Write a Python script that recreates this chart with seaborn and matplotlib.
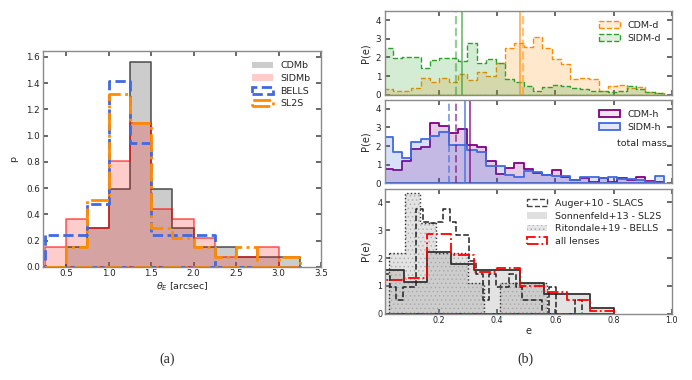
import numpy as np
import matplotlib
matplotlib.use("Agg")
import matplotlib.pyplot as plt
from matplotlib.colors import to_rgba
from matplotlib.patches import Patch
import seaborn as sns

# ---- (a) Einstein radius distributions -------------------------------
theta_edges = [0.25, 0.5, 0.75, 1.0, 1.25, 1.5, 1.75, 2.0, 2.25, 2.5, 2.75, 3.0, 3.25]
p_cdmb = [0.0, 0.147, 0.297, 0.594, 1.562, 0.594, 0.297, 0.147, 0.147, 0.076, 0.076, 0.076]
p_sidmb = [0.147, 0.366, 0.297, 0.805, 1.097, 0.44, 0.366, 0.218, 0.076, 0.076, 0.147, 0.0]
p_bells = [0.239, 0.239, 0.475, 1.42, 0.945, 0.239, 0.239, 0.239, 0.0, 0.0, 0.0, 0.0]
p_sl2s = [0.0, 0.147, 0.508, 1.315, 1.097, 0.292, 0.22, 0.147, 0.073, 0.147, 0.0, 0.073]

# ---- (b) ellipticity distributions -----------------------------------
e_edges = np.linspace(0.008, 0.974, 31)
pe_cdm_d = [0.32, 0.21, 0.21, 0.38, 0.91, 0.7, 0.91, 0.7, 1.1, 0.79, 1.21, 1.0, 1.71, 2.48, 2.75,
            2.57, 3.07, 2.48, 1.89, 1.64, 0.82, 0.88, 0.82, 0.21, 0.46, 0.52, 0.34, 0.39, 0.16, 0.1]
pe_sidm_d = [2.48, 1.95, 2.0, 2.04, 1.41, 1.86, 1.95, 1.95, 1.8, 2.75, 1.71, 1.89, 1.7, 0.82, 0.66,
             0.46, 0.21, 0.39, 0.52, 0.46, 0.36, 0.3, 0.2, 0.2, 0.15, 0.2, 0.47, 0.3, 0.12, 0.08]
pe_cdm_h = [0.77, 0.72, 1.17, 1.83, 1.94, 3.23, 3.08, 2.69, 2.9, 2.03, 1.94, 1.17, 0.5, 0.81, 1.11,
            0.75, 0.54, 0.45, 0.72, 0.36, 0.18, 0.27, 0.09, 0.27, 0.09, 0.27, 0.18, 0.32, 0.13, 0.05]
pe_sidm_h = [2.46, 1.67, 1.35, 2.2, 2.37, 2.55, 2.73, 2.06, 2.06, 1.79, 1.7, 0.9, 0.93, 0.45, 0.32,
             0.63, 0.58, 0.45, 0.4, 0.4, 0.18, 0.36, 0.32, 0.27, 0.32, 0.2, 0.2, 0.18, 0.09, 0.4]
# mean (solid) / median (dashed) markers
vlines_d = {"CDM-d": (0.477, 0.488), "SIDM-d": (0.279, 0.26)}
vlines_h = {"CDM-h": (0.305, 0.26), "SIDM-h": (0.288, 0.234)}

# observed samples
auger_edges = np.linspace(0.008, 0.692, 31)
pe_auger = [1.42, 0.97, 0.49, 0.97, 0.97, 3.77, 3.31, 3.25, 3.31, 3.77, 3.31, 2.83, 2.83, 1.9, 1.42,
            0.49, 1.42, 0.97, 0.97, 1.42, 0.97, 0.49, 0.49, 0.49, 0.0, 0.97, 0.0, 0.0, 0.0, 0.49]
obs_edges = [0.0, 0.08, 0.16, 0.24, 0.32, 0.40, 0.48, 0.56, 0.64, 0.72, 0.80]
pe_sonn = [1.56, 1.13, 2.23, 1.79, 1.57, 1.57, 1.12, 0.7, 0.7, 0.22]
pe_all = [1.22, 1.3, 2.87, 2.13, 1.5, 1.65, 1.0, 0.8, 0.5, 0.1]
rit_edges = np.linspace(0.027, 0.572, 11)
pe_rit = [2.17, 4.33, 3.26, 2.17, 2.17, 1.09, 0.0, 1.09, 1.09, 1.09]

sns.set_theme(style="ticks")
plt.rcParams.update({
    "font.family": ["DejaVu Sans"],
    "axes.edgecolor": "#8a8a8a",
    "axes.linewidth": 1.0,
    "xtick.direction": "in", "ytick.direction": "in",
    "xtick.top": True, "ytick.right": True,
    "xtick.major.size": 3.5, "ytick.major.size": 3.5,
    "xtick.major.pad": 1.8, "ytick.major.pad": 2.5,
    "xtick.color": "#555555", "ytick.color": "#555555",
    "xtick.labelcolor": "#222222", "ytick.labelcolor": "#222222",
    "xtick.labelsize": 6.3, "ytick.labelsize": 6.3,
    "axes.labelsize": 6.8, "legend.fontsize": 6.8,
    "hatch.linewidth": 0.6,
})


def step_hist(ax, edges, heights, color, ls="-", lw=1.0, fill=0.0, edge_alpha=1.0, hatch=None,
              edgecolor=None):
    edges = [float(v) for v in edges]
    mids = [0.5 * (a + b) for a, b in zip(edges[:-1], edges[1:])]
    kw = dict(facecolor=to_rgba(color, fill),
              edgecolor=edgecolor if edgecolor is not None else to_rgba(color, edge_alpha),
              linestyle=ls, linewidth=lw)
    if hatch:
        kw["hatch"] = hatch
    sns.histplot(x=mids, weights=list(heights), bins=edges, element="step", fill=True,
                 color=color, ax=ax, **kw)


leg_kw = dict(loc="upper right", frameon=False, handlelength=2.2, handleheight=0.7,
              handletextpad=0.8, labelspacing=0.38)

fig = plt.figure(figsize=(6.92, 3.8), dpi=100)

# ---------------------------------------------------------------- (a)
ax = fig.add_axes([0.0626, 0.298, 0.4013, 0.5676])
step_hist(ax, theta_edges, p_cdmb, "#808080", lw=1.2, fill=0.4, edgecolor=to_rgba("#333333", 0.8))
step_hist(ax, theta_edges, p_sidmb, "#ff0000", lw=1.2, fill=0.2, edge_alpha=0.6)
step_hist(ax, theta_edges, p_bells, "royalblue", ls="--", lw=2.0)
step_hist(ax, theta_edges, p_sl2s, "darkorange", ls="-.", lw=2.0)
ax.set_xlim(0.23, 3.5)
ax.set_ylim(0, 1.645)
ax.set_xticks([0.5, 1.0, 1.5, 2.0, 2.5, 3.0, 3.5])
ax.set_yticks([0, 0.2, 0.4, 0.6, 0.8, 1.0, 1.2, 1.4, 1.6])
ax.set_xlabel(r"$\theta_E$ [arcsec]", labelpad=1.5)
ax.set_ylabel("p", labelpad=6)
handles = [
    Patch(facecolor="#cccccc", edgecolor="none", label="CDMb"),
    Patch(facecolor="#ffcccc", edgecolor="none", label="SIDMb"),
    Patch(facecolor="none", edgecolor="royalblue", linestyle="--", linewidth=2, label="BELLS"),
    Patch(facecolor="none", edgecolor="darkorange", linestyle="-.", linewidth=2, label="SL2S"),
]
ax.legend(handles=handles, borderaxespad=0.7, **leg_kw)

# ---------------------------------------------------------------- (b) top
e_xlim = (0.013, 1.0)
e_ticks = [0.2, 0.4, 0.6, 0.8, 1.0]

ax1 = fig.add_axes([0.5559, 0.7508, 0.4147, 0.221])
step_hist(ax1, e_edges, pe_cdm_d, "darkorange", ls="--", lw=1.0, fill=0.2)
step_hist(ax1, e_edges, pe_sidm_d, "#2ca02c", ls="--", lw=1.0, fill=0.2)
for name, col in [("CDM-d", "darkorange"), ("SIDM-d", "#2ca02c")]:
    mean, med = vlines_d[name]
    ax1.axvline(mean, color=col, lw=1.2, alpha=0.7)
    ax1.axvline(med, color=col, lw=1.6, ls="--", alpha=0.5)
ax1.legend(handles=[
    Patch(facecolor=to_rgba("darkorange", 0.15), edgecolor="darkorange", linestyle="--", label="CDM-d"),
    Patch(facecolor=to_rgba("#2ca02c", 0.15), edgecolor="#2ca02c", linestyle="--", label="SIDM-d"),
], borderaxespad=0.7, **leg_kw)

# ---------------------------------------------------------------- (b) middle
ax2 = fig.add_axes([0.5559, 0.5179, 0.4147, 0.2200])
step_hist(ax2, e_edges, pe_cdm_h, "purple", lw=1.3, fill=0.2)
step_hist(ax2, e_edges, pe_sidm_h, "royalblue", lw=1.3, fill=0.2)
for name, col in [("CDM-h", "purple"), ("SIDM-h", "royalblue")]:
    mean, med = vlines_h[name]
    ax2.axvline(mean, color=col, lw=1.2, alpha=0.8)
    ax2.axvline(med, color=col, lw=1.4, ls="--", alpha=0.6)
ax2.legend(handles=[
    Patch(facecolor=to_rgba("purple", 0.1), edgecolor="purple", linewidth=1.3, label="CDM-h"),
    Patch(facecolor=to_rgba("royalblue", 0.15), edgecolor="royalblue", linewidth=1.3, label="SIDM-h"),
], borderaxespad=0.7, **leg_kw)
ax2.text(0.982, 0.48, "total mass", transform=ax2.transAxes, ha="right", va="center", fontsize=6.8)

for a in (ax1, ax2):
    a.set_xlim(*e_xlim)
    a.set_ylim(0, 4.5)
    a.set_xticks(e_ticks)
    a.set_xticklabels([])
    a.set_yticks([0, 1, 2, 3, 4])
    a.set_xlabel("")
    a.set_ylabel("P(e)", labelpad=4, fontsize=7)

# ---------------------------------------------------------------- (b) bottom
ax3 = fig.add_axes([0.5559, 0.1742, 0.4147, 0.3296])
step_hist(ax3, obs_edges, pe_sonn, "#808080", lw=0, fill=0.22, edgecolor="none")
step_hist(ax3, rit_edges, pe_rit, "#808080", lw=0, fill=0.22, hatch="....",
          edgecolor=to_rgba("#9a9a9a", 0.6))
step_hist(ax3, obs_edges, pe_sonn, "#333333", ls="-", lw=1.3)
step_hist(ax3, rit_edges, pe_rit, "#333333", ls=":", lw=1.0)
step_hist(ax3, auger_edges, pe_auger, "#222222", ls="--", lw=1.1)
step_hist(ax3, obs_edges, pe_all, "red", ls="-.", lw=1.3)
ax3.set_xlim(*e_xlim)
ax3.set_ylim(0, 4.5)
ax3.set_xticks(e_ticks)
ax3.set_yticks([0, 1, 2, 3, 4])
ax3.tick_params(labelsize=5.8, pad=1.5)
ax3.set_xlabel("e", labelpad=1, fontsize=7)
ax3.set_ylabel("P(e)", labelpad=5, fontsize=7.5)
ax3.legend(handles=[
    Patch(facecolor="none", edgecolor="#444444", linestyle="--", label="Auger+10 - SLACS"),
    Patch(facecolor="#e0e0e0", edgecolor="none", label="Sonnenfeld+13 - SL2S"),
    Patch(facecolor="#e6e6e6", edgecolor="#aaaaaa", hatch="....", linewidth=0, label="Ritondale+19 - BELLS"),
    Patch(facecolor="none", edgecolor="red", linestyle="-.", linewidth=1.3, label="all lenses"),
], borderaxespad=0.7, **leg_kw)

# ---------------------------------------------------------------- captions
fig.text(0.242, 0.055, "(a)", ha="center", va="center", family=["Liberation Serif"], fontsize=10)
fig.text(0.760, 0.055, "(b)", ha="center", va="center", family=["Liberation Serif"], fontsize=10)

fig.savefig("out.png", dpi=100)
